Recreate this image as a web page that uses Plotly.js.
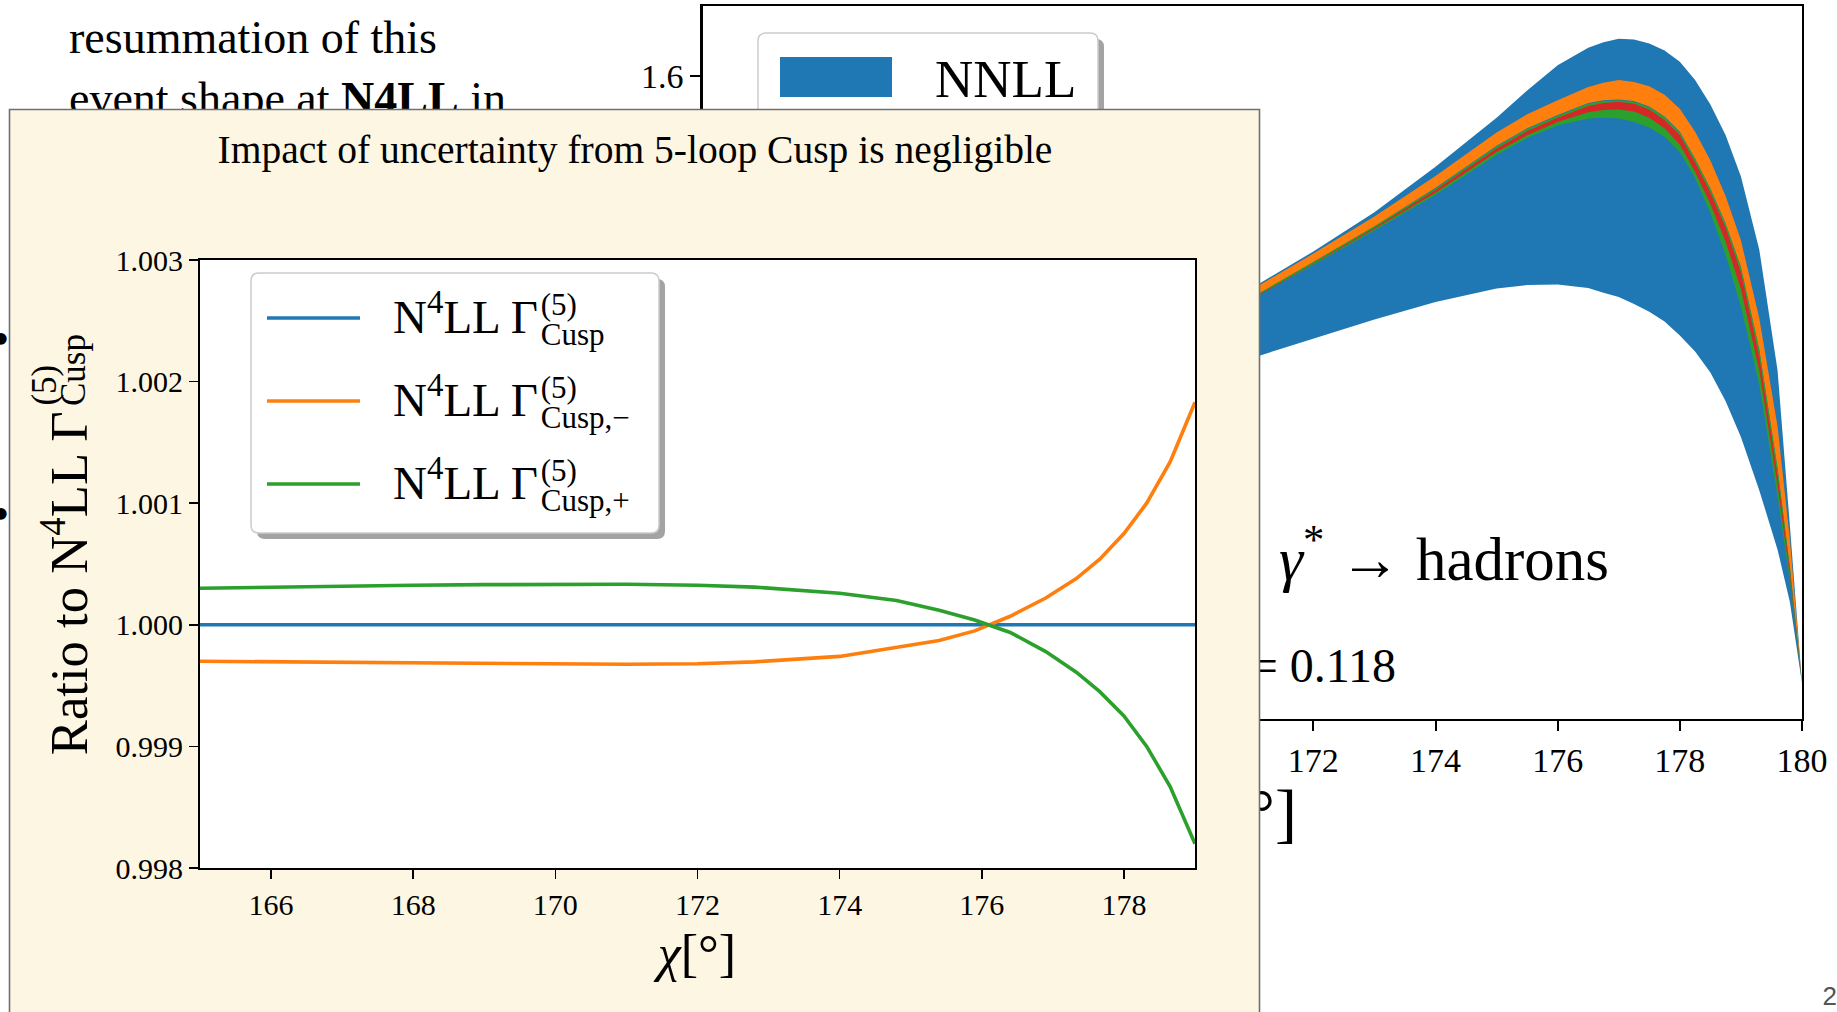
<!DOCTYPE html>
<html>
<head>
<meta charset="utf-8">
<script src="https://cdn.plot.ly/plotly-3.0.1.min.js"></script>
<style>
  html, body { margin: 0; padding: 0; background: #fff; overflow: hidden; }
  #slide { width: 1837px; height: 1012px; }
</style>
</head>
<body>
<div id="slide"></div>
<script>
// ---------- back-to-back region of the event shape, bands per order ----------
const chiBand    = [170, 171, 172, 173, 174, 175, 175.5, 176, 176.5, 176.75, 177, 177.25, 177.5, 177.75, 178, 178.25, 178.5, 178.75, 179, 179.3, 179.6, 179.8, 180];
const nnllHi     = [1.246, 1.298, 1.350, 1.406, 1.471, 1.541, 1.580, 1.616, 1.641, 1.649, 1.654, 1.653, 1.647, 1.637, 1.621, 1.595, 1.560, 1.516, 1.457, 1.353, 1.180, 0.960, 0.733];
const nnllLo     = [1.171, 1.198, 1.225, 1.253, 1.278, 1.297, 1.302, 1.303, 1.298, 1.291, 1.285, 1.275, 1.264, 1.250, 1.230, 1.207, 1.177, 1.136, 1.085, 1.009, 0.924, 0.850, 0.733];
const n3llHi     = [1.245, 1.296, 1.347, 1.400, 1.458, 1.520, 1.546, 1.566, 1.585, 1.591, 1.595, 1.592, 1.586, 1.574, 1.554, 1.521, 1.480, 1.429, 1.366, 1.255, 1.100, 0.940, 0.733];
const n3llLo     = [1.237, 1.284, 1.335, 1.386, 1.441, 1.501, 1.526, 1.545, 1.562, 1.566, 1.567, 1.565, 1.557, 1.543, 1.521, 1.483, 1.440, 1.390, 1.328, 1.210, 1.040, 0.900, 0.733];
const n4llHi     = [1.237, 1.285, 1.335, 1.386, 1.440, 1.500, 1.525, 1.544, 1.561, 1.565, 1.566, 1.564, 1.556, 1.542, 1.520, 1.482, 1.439, 1.389, 1.327, 1.210, 1.040, 0.900, 0.733];
const n4llLo     = [1.236, 1.282, 1.331, 1.380, 1.431, 1.488, 1.512, 1.530, 1.540, 1.541, 1.540, 1.535, 1.527, 1.514, 1.492, 1.455, 1.405, 1.345, 1.271, 1.160, 1.000, 0.880, 0.733];
const n4llCuspHi = [1.236, 1.283, 1.333, 1.384, 1.438, 1.497, 1.522, 1.541, 1.558, 1.562, 1.564, 1.561, 1.553, 1.538, 1.516, 1.477, 1.434, 1.384, 1.320, 1.200, 1.030, 0.895, 0.733];
const n4llCuspLo = [1.236, 1.282, 1.332, 1.382, 1.434, 1.492, 1.516, 1.535, 1.549, 1.552, 1.553, 1.550, 1.541, 1.526, 1.503, 1.464, 1.418, 1.364, 1.296, 1.180, 1.015, 0.888, 0.733];
const bandXTicks = [162, 164, 166, 168, 170, 172, 174, 176, 178, 180];
const bandYTicks = [0.8, 1.0, 1.2, 1.4, 1.6];

// ---------- ratio to the central 5-loop cusp choice ----------
const chiRatio       = [165, 166, 167, 168, 169, 170, 171, 172, 172.8, 174.0, 174.8, 175.4, 175.9, 176.4, 176.9, 177.33, 177.66, 178.0, 178.32, 178.65, 179.0];
const ratioCusp      = [1, 1, 1, 1, 1, 1, 1, 1, 1, 1, 1, 1, 1, 1, 1, 1, 1, 1, 1, 1, 1];
const ratioCuspMinus = [0.99970, 0.999695, 0.99969, 0.999685, 0.99968, 0.999675, 0.999675, 0.99968, 0.999695, 0.99974, 0.99981, 0.99987, 0.99995, 1.00007, 1.00022, 1.00038, 1.00054, 1.00075, 1.00100, 1.00134, 1.00183];
const ratioCuspPlus  = [1.00030, 1.00031, 1.000318, 1.000325, 1.00033, 1.000333, 1.000333, 1.000325, 1.00031, 1.00026, 1.00020, 1.00012, 1.00004, 0.999937, 0.99978, 0.99961, 0.99945, 0.99925, 0.99900, 0.99867, 0.99820];
const ratioXTicks = [166, 168, 170, 172, 174, 176, 178];
const ratioYTicks = [0.998, 0.999, 1.000, 1.001, 1.002, 1.003];
const ratioNames  = ['Cusp', 'Cusp,−', 'Cusp,+'];

const C0 = '#1f77b4', C1 = '#ff7f0e', C2 = '#2ca02c', C3 = '#d62728';
const W = 1837, H = 1012;
const SERIF = 'Liberation Serif, Times New Roman, serif';

// width of a run of text pieces [[string, fontSize], ...] in the serif face
const measureCtx = document.createElement('canvas').getContext('2d');
function runWidth(parts) {
  return parts.reduce((sum, [t, size]) => {
    measureCtx.font = size + 'px "Liberation Serif"';
    return sum + measureCtx.measureText(t).width;
  }, 0);
}

// text positioned by its baseline on one of the pixel-scaled overlay subplots
function label(sub, x, baseline, text, size, anchor, font) {
  const pos = anchor === 'start' ? 'middle right' : anchor === 'end' ? 'middle left' : 'middle center';
  return {
    type: 'scatter', mode: 'text', xaxis: 'x' + sub, yaxis: 'y' + sub,
    x: [x], y: [baseline - 0.25 * size], text: [text], textposition: pos,
    textfont: Object.assign({ family: SERIF, size: size, color: '#000' }, font || {}),
    cliponaxis: false, hoverinfo: 'skip', showlegend: false
  };
}

function band(hi, lo, color) {
  return {
    type: 'scatter', mode: 'lines', xaxis: 'x', yaxis: 'y',
    x: chiBand.concat(chiBand.slice().reverse()),
    y: hi.concat(lo.slice().reverse()),
    fill: 'toself', fillcolor: color, line: { width: 0, color: color },
    hoverinfo: 'skip', showlegend: false
  };
}

function roundRect(x0, y0, x1, y1, r) {
  return `M${x0 + r},${y0} L${x1 - r},${y0} Q${x1},${y0} ${x1},${y0 + r} L${x1},${y1 - r} Q${x1},${y1} ${x1 - r},${y1} ` +
         `L${x0 + r},${y1} Q${x0},${y1} ${x0},${y1 - r} L${x0},${y0 + r} Q${x0},${y0} ${x0 + r},${y0} Z`;
}

const traces = [];

// subplot 1: the event-shape bands
traces.push(band(nnllHi, nnllLo, C0));
traces.push(band(n3llHi, n3llLo, C1));
traces.push(band(n4llHi, n4llLo, C2));
traces.push(band(n4llCuspHi, n4llCuspLo, C3));

// subplot 2: slide text and plot labels that sit underneath the ratio panel
traces.push(label('2', 69, 53, 'resummation of this', 46, 'start'));
traces.push(label('2', 69, 114, 'event shape at <b>N4LL</b> in', 46, 'start'));
traces.push(label('2', 1, 355, '•', 48, 'middle'));
traces.push(label('2', 1, 530, '•', 48, 'middle'));
traces.push(label('2', 935, 97, 'NNLL', 53, 'start'));
traces.push(label('2', 1279, 580, '<i>γ</i><sup>*</sup> → hadrons', 61, 'start'));
traces.push(label('2', 1396, 682, '<i>α</i><sub>s</sub> = 0.118', 48, 'end'));
traces.push(label('2', 1297, 835, '<i>χ</i>[°]', 66, 'end'));
traces.push(label('2', 1837, 1005, '2', 26, 'end', { family: 'Liberation Sans, Arial, sans-serif', color: '#555555' }));

// subplot 3: the panel itself (shape only)
traces.push({ type: 'scatter', mode: 'markers', xaxis: 'x3', yaxis: 'y3', x: [], y: [], showlegend: false, hoverinfo: 'skip' });

// subplot 4: ratio curves
[[ratioCusp, C0], [ratioCuspMinus, C1], [ratioCuspPlus, C2]].forEach(([ys, c]) => {
  traces.push({ type: 'scatter', mode: 'lines', xaxis: 'x4', yaxis: 'y4', x: chiRatio, y: ys,
                line: { color: c, width: 3.6 }, hoverinfo: 'skip', showlegend: false });
});

// subplot 5: labels drawn over the ratio panel
traces.push(label('5', 635, 163, 'Impact of uncertainty from 5-loop Cusp is negligible', 39.5, 'middle'));
const legSize = 47, legX = 393;
const legScriptX = legX + runWidth([['N', legSize], ['4', 0.7 * legSize], ['LL Γ', legSize]]) + 1;
const legBase = [333, 416, 499];
legBase.forEach((yb, i) => {
  traces.push(label('5', legX, yb, 'N<sup>4</sup>LL Γ', legSize, 'start'));
  traces.push(label('5', legScriptX, yb - 18, '(5)', 31, 'start'));
  traces.push(label('5', legScriptX, yb + 12, ratioNames[i], 31, 'start'));
});
traces.push(label('5', 697, 971, '<i>χ</i>[°]', 52, 'middle'));

// rotated y title: main run, then the stacked (5) / Cusp pieces right after it
const yTitleBottom = 756, yTitleLen = 346;
const yRun = (s) => runWidth([['Ratio to N', s], ['4', 0.7 * s], ['LL Γ', s]]);
const yTitleSize = 52 * yTitleLen / yRun(52);
const yScriptStart = yTitleBottom - yRun(yTitleSize) - 2;

const pixelAxis = (range) => ({ domain: [0, 1], range: range, visible: false, fixedrange: true });
const tickFont = (s) => ({ family: SERIF, size: s, color: '#000' });

const layout = {
  width: W, height: H, autosize: false,
  margin: { l: 0, r: 0, t: 0, b: 0, pad: 0 },
  paper_bgcolor: '#ffffff', plot_bgcolor: 'rgba(0,0,0,0)',
  showlegend: false, hovermode: false,
  xaxis: {
    domain: [702.5 / W, 1802 / W], range: [162, 180], anchor: 'y',
    tickmode: 'array', tickvals: bandXTicks, ticktext: bandXTicks.map(String),
    ticks: 'outside', ticklen: 10, tickwidth: 2, tickcolor: '#000',
    showline: true, linewidth: 2.2, linecolor: '#000', mirror: true,
    showgrid: false, zeroline: false, tickfont: tickFont(34)
  },
  yaxis: {
    domain: [1 - 719 / H, 1 - 6 / H], range: [0.6821, 1.7007], anchor: 'x',
    tickmode: 'array', tickvals: bandYTicks, ticktext: bandYTicks.map(v => v.toFixed(1)),
    ticks: 'outside', ticklen: 10, tickwidth: 2, tickcolor: '#000',
    showline: true, linewidth: 2.2, linecolor: '#000', mirror: true,
    showgrid: false, zeroline: false, tickfont: tickFont(34)
  },
  xaxis2: Object.assign(pixelAxis([0, W]), { anchor: 'y2' }),
  yaxis2: Object.assign(pixelAxis([H, 0]), { anchor: 'x2' }),
  xaxis3: { domain: [6 / W, 1263 / W], range: [6, 1263], visible: false, anchor: 'y3' },
  yaxis3: { domain: [0, (H - 106) / H], range: [H, 106], visible: false, anchor: 'x3' },
  xaxis4: {
    domain: [200 / W, 1195 / W], range: [165, 179], anchor: 'y4',
    tickmode: 'array', tickvals: ratioXTicks, ticktext: ratioXTicks.map(String),
    ticks: 'outside', ticklen: 9, tickwidth: 1.6, tickcolor: '#000',
    showline: true, linewidth: 2, linecolor: '#000', mirror: true,
    showgrid: false, zeroline: false, tickfont: tickFont(30)
  },
  yaxis4: {
    domain: [1 - 868 / H, 1 - 260 / H], range: [0.998, 1.003], anchor: 'x4',
    tickmode: 'array', tickvals: ratioYTicks, ticktext: ratioYTicks.map(v => v.toFixed(3)),
    ticks: 'outside', ticklen: 9, tickwidth: 1.6, tickcolor: '#000',
    showline: true, linewidth: 2, linecolor: '#000', mirror: true,
    showgrid: false, zeroline: false, tickfont: tickFont(30)
  },
  xaxis5: Object.assign(pixelAxis([0, W]), { anchor: 'y5' }),
  yaxis5: Object.assign(pixelAxis([H, 0]), { anchor: 'x5' }),
  shapes: [
    // NNLL legend frame (mostly covered by the panel)
    { type: 'path', xref: 'x2', yref: 'y2', layer: 'below', path: roundRect(764, 39, 1104, 330, 8),
      fillcolor: '#a3a3a3', line: { width: 0 } },
    { type: 'path', xref: 'x2', yref: 'y2', layer: 'below', path: roundRect(758, 33, 1098, 324, 8),
      fillcolor: '#ffffff', line: { color: '#cccccc', width: 1.5 } },
    { type: 'rect', xref: 'x2', yref: 'y2', layer: 'below', x0: 780, x1: 892, y0: 57, y1: 97,
      fillcolor: C0, line: { width: 0 } },
    // ratio panel
    { type: 'rect', xref: 'x3', yref: 'y3', layer: 'below', x0: 9.5, x1: 1259.5, y0: 109.5, y1: 1030,
      fillcolor: '#fdf6e3', line: { color: '#707070', width: 1.6 } },
    { type: 'rect', xref: 'x4', yref: 'y4', layer: 'below', x0: 165, x1: 179, y0: 0.998, y1: 1.003,
      fillcolor: '#ffffff', line: { width: 0 } },
    // ratio legend
    { type: 'path', xref: 'x5', yref: 'y5', layer: 'below', path: roundRect(257, 279, 665, 539, 8),
      fillcolor: '#a3a3a3', line: { width: 0 } },
    { type: 'path', xref: 'x5', yref: 'y5', layer: 'below', path: roundRect(251, 273, 659, 533, 8),
      fillcolor: '#ffffff', line: { color: '#cccccc', width: 1.5 } },
    { type: 'line', xref: 'x5', yref: 'y5', layer: 'below', x0: 267, x1: 360, y0: 318, y1: 318, line: { color: C0, width: 3.6 } },
    { type: 'line', xref: 'x5', yref: 'y5', layer: 'below', x0: 267, x1: 360, y0: 401, y1: 401, line: { color: C1, width: 3.6 } },
    { type: 'line', xref: 'x5', yref: 'y5', layer: 'below', x0: 267, x1: 360, y0: 484, y1: 484, line: { color: C2, width: 3.6 } }
  ],
  annotations: [
    { xref: 'paper', yref: 'paper', x: (83 - 0.3375 * yTitleSize) / W, y: 1 - (yTitleBottom + 1) / H,
      xanchor: 'center', yanchor: 'bottom', textangle: -90, showarrow: false,
      text: 'Ratio to N<sup>4</sup>LL Γ', font: { family: SERIF, size: yTitleSize, color: '#000' } },
    { xref: 'paper', yref: 'paper', x: 45 / W, y: 1 - yScriptStart / H, xanchor: 'center', yanchor: 'bottom',
      textangle: -90, showarrow: false, text: '(5)', font: { family: SERIF, size: 35, color: '#000' } },
    { xref: 'paper', yref: 'paper', x: 73 / W, y: 1 - yScriptStart / H, xanchor: 'center', yanchor: 'bottom',
      textangle: -90, showarrow: false, text: 'Cusp', font: { family: SERIF, size: 35, color: '#000' } }
  ]
};

Plotly.newPlot('slide', traces, layout, { staticPlot: true, displayModeBar: false });
</script>
</body>
</html>
